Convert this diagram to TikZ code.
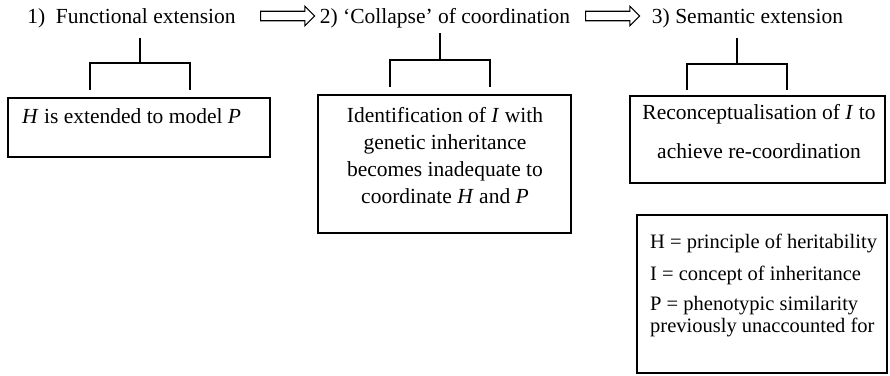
\documentclass[tikz,border=0pt]{standalone}
\usepackage{fontspec}
\setmainfont{Liberation Serif}
\usetikzlibrary{shapes.arrows}
\begin{document}
\begin{tikzpicture}[x=1pt,y=-1pt,
  box/.style={draw, line width=1.2pt, rectangle, inner sep=0pt},
  ttl/.style={anchor=base, font=\fontsize{21.5}{25}\selectfont, inner sep=0pt},
  txt/.style={anchor=base, font=\fontsize{21.5}{25}\selectfont, inner sep=0pt},
  leg/.style={anchor=base west, font=\fontsize{20.5}{23}\selectfont, inner sep=0pt},
  bar/.style={line width=1.3pt},
  fat/.style={single arrow, draw, line width=1.1pt, fill=white, inner sep=4.2pt,
    single arrow head extend=5pt, single arrow tip angle=90, anchor=west}]
\useasboundingbox (0,0) rectangle (890,375);

% titles
\node[ttl] (t1) at (131.5,23) {1)\ \ Functional extension};
\node[ttl] (t2) at (445,23) {2) ‘Collapse’ of coordination};
\node[ttl] (t3) at (747.5,23) {3) Semantic extension};

% arrows
\node[fat, minimum height=54pt] (a1) at (260,16) {};
\node[fat, minimum height=54pt] (a2) at (585,16) {};

% boxes
\node[box, minimum width=262pt, minimum height=59pt] (b1) at (139,127.5) {};
\node[box, minimum width=253pt, minimum height=138pt] (b2) at (444.5,164) {};
\node[box, minimum width=255pt, minimum height=87pt] (b3) at (757.5,139.5) {};
\node[box, minimum width=250pt, minimum height=158pt] (lg) at (762,294) {};

% bracket 1
\coordinate (s1) at (140,38);
\coordinate (j1) at (140,63);
\coordinate (l1) at (90,90);
\coordinate (r1) at (190,90);
\draw[bar] (s1) -- (j1);
\draw[bar] (l1) |- (j1) -| (r1);

% bracket 2
\coordinate (s2) at (440,33);
\coordinate (j2) at (440,60);
\coordinate (l2) at (390,87);
\coordinate (r2) at (490,87);
\draw[bar] (s2) -- (j2);
\draw[bar] (l2) |- (j2) -| (r2);

% bracket 3
\coordinate (s3) at (737,38);
\coordinate (j3) at (737,64);
\coordinate (l3) at (687,90);
\coordinate (r3) at (787,90);
\draw[bar] (s3) -- (j3);
\draw[bar] (l3) |- (j3) -| (r3);

% box texts
\node[txt, anchor=base west] (x1) at (22,123) {\textit{H} is extended to model \textit{P}};

\node[txt] (x2a) at (445,122.5) {Identification of \textit{I} with};
\node[txt] (x2b) at (445,149.5) {genetic inheritance};
\node[txt] (x2c) at (445,176.5) {becomes inadequate to};
\node[txt] (x2d) at (445,203) {coordinate \textit{H} and \textit{P}};

\node[txt] (x3a) at (759,119) {Reconceptualisation of \textit{I} to};
\node[txt] (x3b) at (759,158) {achieve re-coordination};

\node[leg] (g1) at (650,248) {H = principle of heritability};
\node[leg] (g2) at (650,280) {I = concept of inheritance};
\node[leg] (g3) at (650,310) {P = phenotypic similarity};
\node[leg] (g4) at (650,332) {previously unaccounted for};
\end{tikzpicture}
\end{document}
